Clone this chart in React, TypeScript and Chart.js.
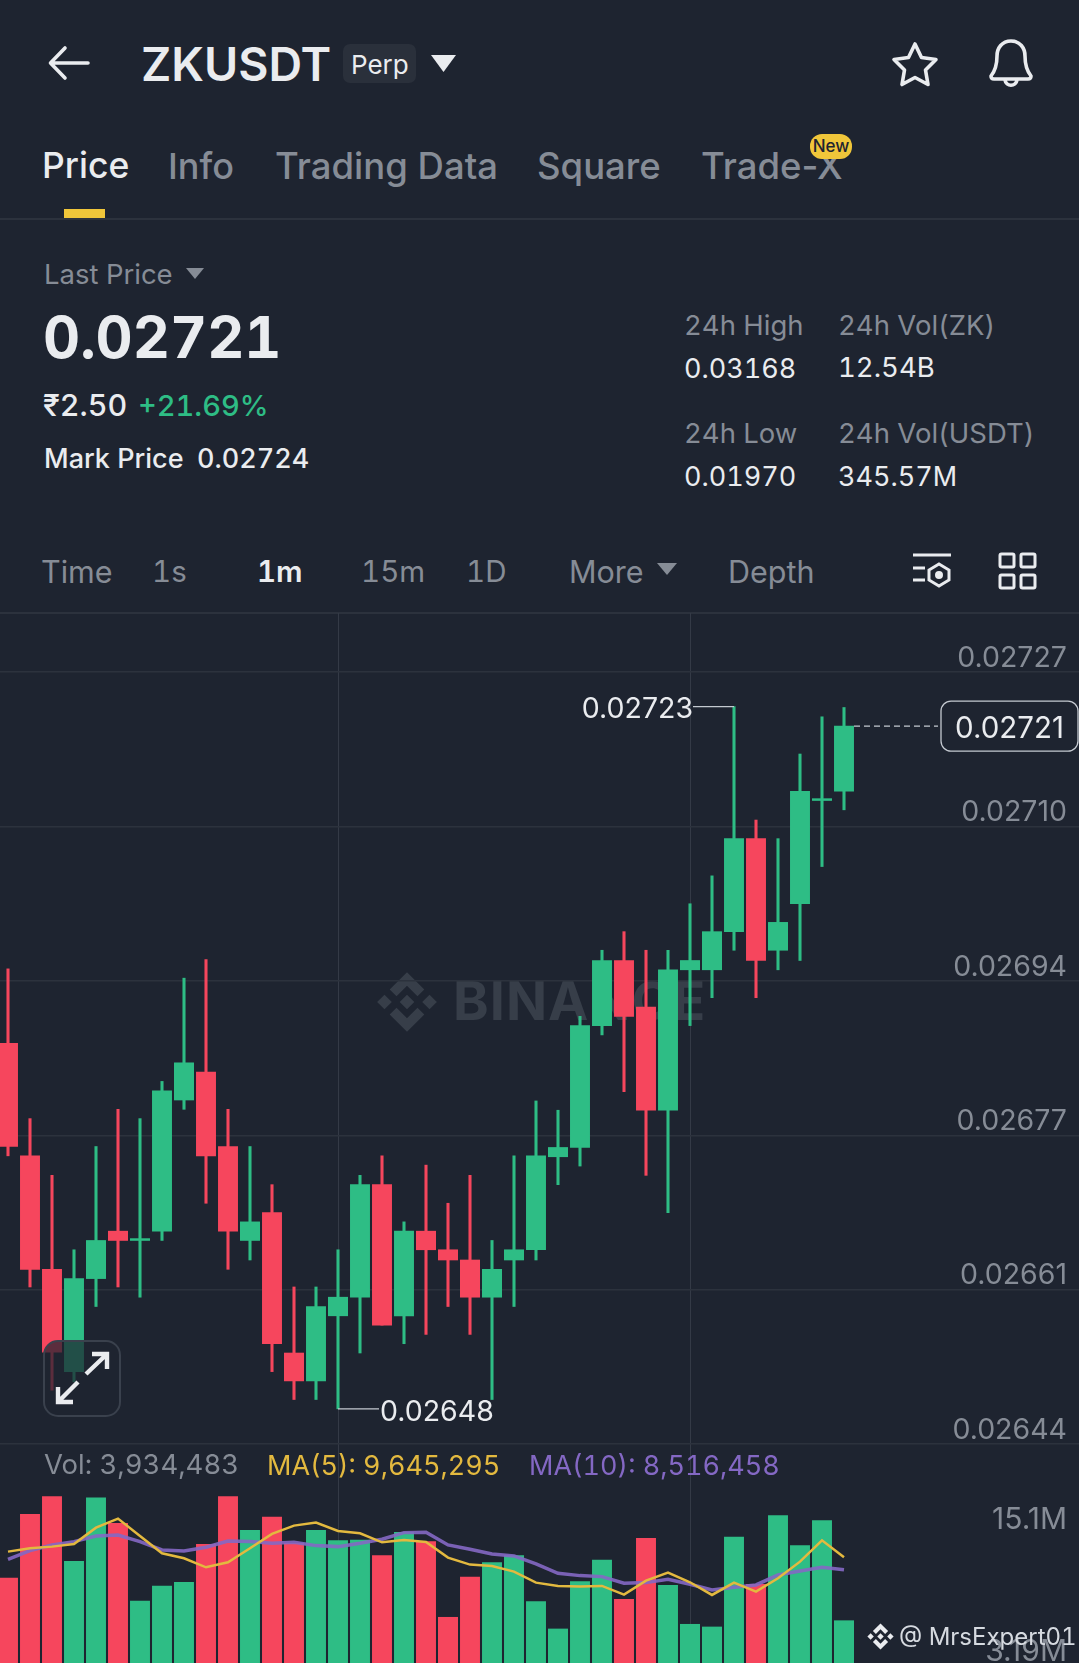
import React, { useEffect, useRef } from "react";
import { Chart, registerables } from "chart.js";

Chart.register(...registerables);

const BG = "#1e2430";
const GREEN = "#2ebd85";
const RED = "#f6465d";
const GRAY = "#868c96";
const WHITE = "#eaecef";
const GRID = "#2c323d";
const FONT = "Inter, 'Noto Sans', sans-serif";

const slots = Array.from({ length: 50 }, (_, i) => String(i));

const opens = [0.026871,0.02675,0.026628,0.026518,0.026618,0.026669,0.026659,0.026669,0.02681,0.02684,0.02676,0.026659,0.026689,0.026538,0.026508,0.026578,0.026598,0.026719,0.026578,0.026669,0.026649,0.026638,0.026598,0.026638,0.026649,0.026749,0.026759,0.02689,0.02696,0.02691,0.026799,0.02695,0.02695,0.026991,0.027091,0.026971,0.027021,0.027132,0.027142];
const closes = [0.02676,0.026628,0.026539,0.026618,0.026659,0.026659,0.026661,0.02682,0.02685,0.02675,0.026669,0.026679,0.026548,0.026508,0.026588,0.026598,0.026719,0.026568,0.026669,0.026649,0.026638,0.026598,0.026628,0.026649,0.02675,0.026759,0.02689,0.02696,0.0269,0.026799,0.02695,0.02696,0.026991,0.027091,0.02696,0.027001,0.027142,0.027134,0.027212];
const highs = [0.026951,0.02679,0.026729,0.026649,0.02676,0.0268,0.02679,0.02683,0.026941,0.026961,0.0268,0.02676,0.026719,0.026609,0.026609,0.026649,0.026729,0.02675,0.026679,0.02674,0.026699,0.026729,0.026659,0.02675,0.026809,0.026799,0.0269,0.026971,0.026991,0.026971,0.026971,0.027021,0.027051,0.027233,0.027111,0.027091,0.027182,0.027222,0.027232];
const lows = [0.02675,0.026609,0.026498,0.026507,0.026588,0.026609,0.026598,0.026659,0.0268,0.026699,0.026628,0.026638,0.026518,0.026488,0.026488,0.026478,0.026538,0.026568,0.026548,0.026558,0.026588,0.026558,0.026488,0.026588,0.026638,0.026719,0.026739,0.02688,0.026819,0.026729,0.026689,0.02689,0.02692,0.026971,0.02692,0.02695,0.02696,0.027061,0.027122];

const volumes = [7776000,13500000,15100000,9280000,15000000,12700000,5710000,7060000,7390000,10800000,15100000,12070000,13270000,10900000,12070000,11140000,11200000,9790000,11890000,11050000,4240000,7870000,9160000,9790000,5650000,3190000,7450000,9400000,5860000,11350000,7120000,3610000,3370000,11470000,7210000,13390000,10690000,12940000,3934483];
const ma5 = [10150000,10450000,10600000,10840000,12310000,13120000,11560000,10000000,9550000,8740000,9190000,10450000,11740000,12490000,12760000,12010000,11800000,10990000,11200000,11020000,9610000,8980000,8860000,8350000,7360000,7060000,7000000,7060000,6280000,7540000,8260000,7390000,6250000,7360000,6550000,7750000,9250000,11170000,9645295];
const ma10 = [9460000,10240000,10750000,11050000,11560000,11650000,11050000,10300000,10210000,10540000,11110000,11050000,10900000,10990000,10690000,10600000,10900000,11260000,11860000,11890000,10750000,10360000,9940000,9760000,9040000,8200000,7990000,7900000,7300000,7360000,7660000,7210000,6700000,6940000,7150000,8050000,8410000,8740000,8516458];

const priceTicks = [0.02727, 0.027104, 0.026938, 0.026772, 0.026606, 0.02644];
const volumeTicks = [15100000, 3190000];
const volumeTickLabels = ["15.1M", "3.19M"];
const highIndex = 33;
const lowIndex = 15;
const lastIndex = 38;

const isUp = (i: number) => closes[i] >= opens[i];
const candleColor = (i: number) => (isUp(i) ? GREEN : RED);
const verticalGrid = (ctx: any) => (ctx.index === lowIndex || ctx.index === 31 ? "#343a46" : "transparent");
const flushAxis = (s: any) => {
  s.width = 0;
  s.paddingTop = 0;
  s.paddingBottom = 0;
  s.paddingLeft = 0;
  s.paddingRight = 0;
};

const annotations = {
  id: "annotations",
  afterDatasetsDraw(chart: any) {
    const { ctx, scales } = chart;
    const x = scales.x;
    const y = scales.y;
    const offset = 3;
    ctx.save();
    ctx.font = `28.5px ${FONT}`;
    ctx.textBaseline = "middle";
    ctx.fillStyle = WHITE;
    ctx.strokeStyle = "#c4c9d0";
    ctx.lineWidth = 1.3;

    const hx = x.getPixelForValue(highIndex);
    const hy = y.getPixelForValue(highs[highIndex]);
    ctx.textAlign = "right";
    ctx.fillText(highs[highIndex].toFixed(5), hx - 41, hy + 3);
    ctx.beginPath();
    ctx.moveTo(hx - 41, hy);
    ctx.lineTo(hx, hy);
    ctx.stroke();

    const lx = x.getPixelForValue(lowIndex);
    const ly = y.getPixelForValue(lows[lowIndex]);
    ctx.textAlign = "left";
    ctx.fillText(lows[lowIndex].toFixed(5), lx + 42, ly + 4);
    ctx.beginPath();
    ctx.moveTo(lx, ly);
    ctx.lineTo(lx + 41, ly);
    ctx.stroke();

    const px = x.getPixelForValue(lastIndex);
    const py = y.getPixelForValue(closes[lastIndex]);
    ctx.setLineDash([6, 4]);
    ctx.beginPath();
    ctx.moveTo(px + 10, py);
    ctx.lineTo(938 + offset, py);
    ctx.stroke();
    ctx.setLineDash([]);
    ctx.fillStyle = BG;
    ctx.beginPath();
    ctx.roundRect(941 + offset, py - 25, 137, 50, 10);
    ctx.fill();
    ctx.stroke();
    ctx.fillStyle = WHITE;
    ctx.textAlign = "center";
    ctx.font = `29.5px ${FONT}`;
    ctx.fillText(closes[lastIndex].toFixed(5), 1009.5 + offset, py + 3);
    ctx.restore();
  },
};

function PriceChart() {
  const ref = useRef<HTMLCanvasElement>(null);
  useEffect(() => {
    const chart = new Chart(ref.current!, {
      type: "bar",
      data: {
        labels: slots,
        datasets: [
          {
            data: lows.map((l, i) => [l, highs[i]]) as any,
            backgroundColor: opens.map((_, i) => candleColor(i)),
            barThickness: 2.4,
            grouped: false,
            order: 2,
          } as any,
          {
            data: opens.map((o, i) => [o, closes[i]]) as any,
            backgroundColor: opens.map((_, i) => candleColor(i)),
            barThickness: 19.3,
            grouped: false,
            order: 1,
          } as any,
        ],
      },
      options: {
        animation: false,
        responsive: false,
        events: [],
        layout: { padding: 0 },
        plugins: { legend: { display: false }, tooltip: { enabled: false } },
        scales: {
          x: {
            ticks: { display: false, autoSkip: false },
            border: { display: false },
            grid: { color: verticalGrid, offset: false, drawTicks: false, tickLength: 0 } as any,
          },
          y: {
            position: "right",
            min: 0.0264391,
            max: 0.0273336,
            afterBuildTicks: (s: any) => { s.ticks = priceTicks.map((value) => ({ value })); },
            afterFit: flushAxis,
            ticks: {
              mirror: true,
              padding: -30,
              labelOffset: -14,
              color: GRAY,
              font: { family: FONT, size: 28.5 },
              callback: (v: any) => Number(v).toFixed(5),
            } as any,
            border: { display: false },
            grid: { color: GRID, drawTicks: false, tickLength: 0, lineWidth: 1.5 } as any,
          },
        },
      },
      plugins: [annotations],
    } as any);
    return () => chart.destroy();
  }, []);
  return <canvas ref={ref} width={1100} height={832} style={{ position: "absolute", left: -3, top: 613, width: 1100, height: 832 }} />;
}

function VolumeChart() {
  const ref = useRef<HTMLCanvasElement>(null);
  useEffect(() => {
    const chart = new Chart(ref.current!, {
      type: "bar",
      data: {
        labels: slots,
        datasets: [
          { type: "line", data: ma10, borderColor: "rgba(132,104,196,0.9)", borderWidth: 3.5, pointRadius: 0, order: 1 },
          { type: "line", data: ma5, borderColor: "#e3b93f", borderWidth: 2.5, pointRadius: 0, order: 0 },
          { type: "bar", data: volumes, backgroundColor: opens.map((_, i) => candleColor(i)), barThickness: 19.3, order: 2 },
        ],
      },
      options: {
        animation: false,
        responsive: false,
        events: [],
        layout: { padding: 0 },
        plugins: { legend: { display: false }, tooltip: { enabled: false } },
        scales: {
          x: {
            ticks: { display: false, autoSkip: false },
            border: { display: false },
            grid: { color: verticalGrid, offset: false, drawTicks: false, tickLength: 0 } as any,
          },
          y: {
            position: "right",
            min: 126000,
            max: 19746000,
            afterBuildTicks: (s: any) => { s.ticks = volumeTicks.map((value) => ({ value })); },
            afterFit: flushAxis,
            ticks: {
              mirror: true,
              padding: -30,
              labelOffset: 23,
              color: GRAY,
              font: { family: FONT, size: 30 },
              callback: (_: any, i: number) => volumeTickLabels[i],
            } as any,
            border: { display: false },
            grid: { display: false },
          },
        },
      },
    } as any);
    return () => chart.destroy();
  }, []);
  return <canvas ref={ref} width={1100} height={218} style={{ position: "absolute", left: -3, top: 1445, width: 1100, height: 218 }} />;
}

function T({ x, cy, size, color = WHITE, weight = 400, plain = false, spacing = 0, children }: any) {
  return (
    <span style={{ position: "absolute", left: x, top: cy, transform: "translateY(-50%)", fontSize: size, color, fontWeight: weight, whiteSpace: "nowrap", lineHeight: 1, letterSpacing: spacing, fontVariantNumeric: plain ? "normal" : "tabular-nums" }}>
      {children}
    </span>
  );
}

function Tri({ x, y, w, h, color }: any) {
  return (
    <svg style={{ position: "absolute", left: x, top: y }} width={w} height={h} viewBox="0 0 10 10" preserveAspectRatio="none">
      <polygon points="0,0 10,0 5,10" fill={color} />
    </svg>
  );
}

function Logo({ x, y, size, color }: any) {
  return (
    <svg style={{ position: "absolute", left: x, top: y }} width={size} height={size} viewBox="0 0 126 126">
      <g fill={color}>
        <polygon points="63,49 77,63 63,77 49,63" />
        <polygon points="6,63 20,49 34,63 20,77" />
        <polygon points="92,63 106,49 120,63 106,77" />
        <polygon points="63,6 96,39 83,52 63,32 43,52 30,39" />
        <polygon points="63,120 96,87 83,74 63,94 43,74 30,87" />
      </g>
    </svg>
  );
}

export default function App() {
  useEffect(() => {
    document.body.style.margin = "0";
    document.body.style.overflow = "hidden";
  }, []);
  return (
    <div style={{ position: "absolute", left: 0, top: 0, width: 1079, height: 1663, overflow: "hidden", background: BG, fontFamily: FONT }}>
      {/* header */}
      <svg style={{ position: "absolute", left: 47, top: 45 }} width={44} height={36} viewBox="0 0 44 36" fill="none" stroke={WHITE} strokeWidth="3.6" strokeLinecap="round" strokeLinejoin="round">
        <path d="M41 18H4M18 3 3.5 18 18 33" />
      </svg>
      <T x={141} cy={64} size={46.5} weight={600}>ZKUSDT</T>
      <div style={{ position: "absolute", left: 343, top: 44, width: 73, height: 39, borderRadius: 7, background: "#2a303b" }} />
      <T x={351} cy={65} size={26}>Perp</T>
      <Tri x={431} y={55} w={25} h={17} color={WHITE} />
      <svg style={{ position: "absolute", left: 891, top: 41 }} width={48} height={46} viewBox="0 0 48 46" fill="none" stroke={WHITE} strokeWidth="3.6" strokeLinejoin="round">
        <path d="M24 3l6.5 13.5L45 18.5 34.5 29 37 43.5 24 36.5 11 43.5 13.5 29 3 18.5l14.5-2z" />
      </svg>
      <svg style={{ position: "absolute", left: 988, top: 38 }} width={46} height={50} viewBox="0 0 46 50" fill="none" stroke={WHITE} strokeWidth="3.6" strokeLinejoin="round" strokeLinecap="round">
        <path d="M23 3c-9 0-14 7-14 15 0 10-2 15-6 20 0 2 1 3 3 3h34c2 0 3-1 3-3-4-5-6-10-6-20 0-8-5-15-14-15zM17 42c1 7 11 7 12 0" />
      </svg>

      {/* tabs */}
      <T x={42} cy={166} size={35.5} weight={500}>Price</T>
      <T x={168} cy={166} size={36} weight={500} color={GRAY}>Info</T>
      <T x={275} cy={166} size={36.5} weight={500} color={GRAY}>Trading Data</T>
      <T x={537} cy={166} size={36.5} weight={500} color={GRAY}>Square</T>
      <T x={701} cy={166} size={36.5} weight={500} color={GRAY} plain>Trade-X</T>
      <div style={{ position: "absolute", left: 810, top: 134, width: 42, height: 25, borderRadius: 12, background: "#f0c63a", color: "#1e2430", fontSize: 17, fontWeight: 500, textAlign: "center", lineHeight: "25px" }}>New</div>
      <div style={{ position: "absolute", left: 64, top: 209, width: 41, height: 9, background: "#f0c63a" }} />
      <div style={{ position: "absolute", left: 0, top: 218, width: 1079, height: 2, background: GRID }} />

      {/* price summary */}
      <T x={44} cy={275} size={27.5} color={GRAY}>Last Price</T>
      <Tri x={186} y={268} w={18} h={11} color={GRAY} />
      <T x={43} cy={338} size={57.5} weight={700}>0.02721</T>
      <T x={43} cy={405} size={30.5} weight={500}>₹2.50</T>
      <T x={138} cy={405} size={29} weight={500} color={GREEN}>+21.69%</T>
      <T x={44} cy={458} size={27} weight={500}>Mark Price</T>
      <T x={197} cy={458} size={27} weight={500}>0.02724</T>
      <T x={684} cy={326} size={27.5} color={GRAY}>24h High</T>
      <T x={684} cy={368} size={27}>0.03168</T>
      <T x={684} cy={434} size={27.5} color={GRAY}>24h Low</T>
      <T x={684} cy={476} size={27}>0.01970</T>
      <T x={838} cy={326} size={27.5} color={GRAY}>24h Vol(ZK)</T>
      <T x={838} cy={368} size={27.5}>12.54B</T>
      <T x={838} cy={434} size={27.5} color={GRAY}>24h Vol(USDT)</T>
      <T x={838} cy={476} size={27}>345.57M</T>

      {/* interval row */}
      <T x={41} cy={572} size={30.5} color={GRAY}>Time</T>
      <T x={152} cy={572} size={29.5} color={GRAY}>1s</T>
      <T x={257} cy={572} size={29.5} weight={600}>1m</T>
      <T x={361} cy={572} size={29.5} color={GRAY}>15m</T>
      <T x={466} cy={572} size={29.5} color={GRAY}>1D</T>
      <T x={569} cy={572} size={30.5} color={GRAY}>More</T>
      <Tri x={657} y={563} w={20} h={12} color={GRAY} />
      <T x={728} cy={572} size={30.5} color={GRAY}>Depth</T>
      <svg style={{ position: "absolute", left: 912, top: 552 }} width={40} height={38} viewBox="0 0 40 38" fill="none" stroke={WHITE} strokeWidth="3">
        <path d="M1 3h38M1 16h12M1 28h12" />
        <path d="M27 12l10 6v10l-10 6-10-6V18z" />
        <circle cx="27" cy="23" r="2.5" fill={WHITE} />
      </svg>
      <svg style={{ position: "absolute", left: 998, top: 552 }} width={39} height={38} viewBox="0 0 39 38" fill="none" stroke={WHITE} strokeWidth="3">
        <rect x="2" y="2" width="14" height="13" rx="1.5" />
        <rect x="23" y="2" width="14" height="13" rx="1.5" />
        <rect x="2" y="23" width="14" height="13" rx="1.5" />
        <rect x="23" y="23" width="14" height="13" rx="1.5" />
      </svg>
      <div style={{ position: "absolute", left: 0, top: 612, width: 1079, height: 2, background: GRID }} />

      {/* watermark sits behind the chart canvas */}
      <Logo x={374} y={969} size={66} color="#373e49" />
      <T x={453} cy={1001} size={54} weight={700} color="#373e49" spacing={1}>BINANCE</T>

      <PriceChart />

      {/* expand button */}
      <div style={{ position: "absolute", left: 43, top: 1340, width: 78, height: 77, boxSizing: "border-box", borderRadius: 15, border: "2px solid #3a414d", background: "rgba(30,36,48,0.72)" }} />
      <svg style={{ position: "absolute", left: 54, top: 1350 }} width={56} height={56} viewBox="0 0 56 56" fill="none" stroke={WHITE} strokeWidth="4.4">
        <path d="M32 24 52 5M38 4h15v15" />
        <path d="M24 32 5 51M4 37v15h15" />
      </svg>

      <VolumeChart />

      <T x={44} cy={1465} size={27.5} color={GRAY}>Vol: 3,934,483</T>
      <T x={267} cy={1465} size={27} color="#e3b93f">MA(5): 9,645,295</T>
      <T x={529} cy={1465} size={27} color="#8468c4">MA(10): 8,516,458</T>

      <Logo x={866} y={1622} size={29} color={WHITE} />
      <T x={899} cy={1637} size={24} color="#d6dae0">@ MrsExpert01</T>
    </div>
  );
}
